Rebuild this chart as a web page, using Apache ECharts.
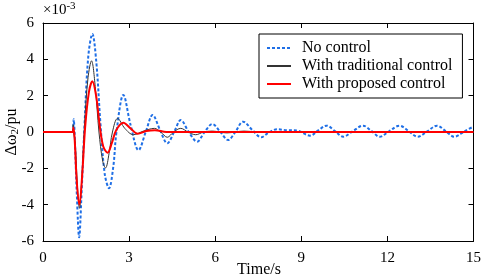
<!DOCTYPE html>
<html>
<head>
<meta charset="utf-8">
<script src="https://cdn.jsdelivr.net/npm/echarts@6/dist/echarts.min.js"></script>
<style>
  html, body { margin: 0; padding: 0; background: #fff; }
  #chart { width: 484px; height: 279px; }
</style>
</head>
<body>
<div id="chart"></div>
<script>
// values, y in units of 1e-3 pu
const seriesNames = ['No control', 'With traditional control', 'With proposed control']
const xTicks = [0, 3, 6, 9, 12, 15]
const yTicks = [-6, -4, -2, 0, 2, 4, 6]

const tNone = [0, 1.0, 1.04, 1.07, 1.1, 1.18, 1.26, 1.34, 1.45, 1.58, 1.72, 1.86, 2.0, 2.15, 2.3, 2.45, 2.56, 2.8, 3.05, 3.33, 3.58, 3.82, 4.08, 4.33, 4.57, 4.8, 5.08, 5.37, 5.63, 5.9, 6.18, 6.45, 6.7, 6.97, 7.3, 7.6, 7.85, 8.15, 8.5, 8.85, 9.3, 9.6, 9.88, 10.17, 10.46, 10.8, 11.15, 11.45, 11.73, 12.07, 12.42, 12.74, 13.06, 13.4, 13.73, 14.03, 14.33, 14.7, 15.0]
const vNone = [0, 0, 0, 0.7, 0, -3.5, -5.8, -3.5, 0.5, 4.2, 5.4, 3.8, 0.5, -2.3, -3.1, -1.9, 0, 2.04, 0.4, -1.0, 0, 0.94, 0.1, -0.62, 0, 0.66, 0, -0.53, 0, 0.44, 0, -0.44, 0, 0.57, 0.1, -0.29, -0.05, 0.15, 0.1, 0.08, -0.2, 0.1, 0.35, 0.05, -0.26, 0.05, 0.35, 0.05, -0.26, 0.05, 0.35, 0.05, -0.26, 0.05, 0.35, 0.05, -0.26, 0.05, 0.3]

const tTrad = [0, 1.03, 1.05, 1.08, 1.12, 1.2, 1.27, 1.35, 1.45, 1.57, 1.69, 1.82, 1.95, 2.08, 2.18, 2.3, 2.42, 2.6, 2.85, 3.15, 3.5, 3.88, 4.1, 4.33, 4.55, 4.8, 5.05, 5.32, 5.6, 5.9, 6.4, 7.0, 7.6, 15]
const vTrad = [0, 0, 0.4, -0.2, -0.5, -3.0, -4.2, -2.6, 0.5, 3.0, 3.92, 2.5, 0, -1.6, -1.98, -1.2, 0, 0.75, 0.2, -0.15, 0.05, 0.2, 0, -0.29, 0, 0.2, 0, -0.15, 0, 0.05, -0.05, 0.05, 0, 0]

const tProp = [0, 1.03, 1.06, 1.1, 1.18, 1.27, 1.36, 1.47, 1.6, 1.72, 1.85, 1.98, 2.1, 2.25, 2.4, 2.55, 2.8, 3.05, 3.3, 3.6, 3.9, 4.3, 15]
const vProp = [0, 0, 0.25, -0.3, -2.8, -4.0, -2.5, 0.3, 2.2, 2.8, 2.0, 0.3, -0.8, -1.14, -0.6, 0.1, 0.51, 0.2, -0.1, 0.05, 0.1, 0, 0]

const pairs = (ts, vs) => ts.map((t, i) => [t, vs[i]])

const font = 'Liberation Serif'

// fresh object per axis, MATLAB style box with inward ticks
function boxAxis(position, min, max, interval, labels) {
  return {
    type: 'value', position: position, min: min, max: max, interval: interval,
    axisLine: { show: true, onZero: false, lineStyle: { color: '#000', width: 1 } },
    axisTick: { show: true, inside: true, length: 5, lineStyle: { color: '#000', width: 1 } },
    axisLabel: labels
      ? { show: true, fontFamily: font, fontSize: 15, color: '#000', margin: position === 'left' ? 9 : 10 }
      : { show: false },
    splitLine: { show: false }
  }
}

// axis titles and the exponent as plain text elements
const titles = [
  {
    type: 'text', left: 43, top: 1,
    style: {
      text: '{m|×10}{s|-3}',
      rich: {
        m: { fontFamily: font, fontSize: 15, fill: '#000' },
        s: { fontFamily: font, fontSize: 11, fill: '#000', verticalAlign: 'top', padding: [0, 0, 8, 0] }
      }
    }
  },
  {
    type: 'text', x: 259, y: 270,
    style: { text: 'Time/s', fontFamily: font, fontSize: 16, fill: '#000', align: 'center', verticalAlign: 'middle' }
  },
  {
    type: 'text', x: 12, y: 132, rotation: Math.PI / 2,
    style: {
      text: '{n|Δω}{s|2}{n|/pu}', align: 'center', verticalAlign: 'middle',
      rich: {
        n: { fontFamily: font, fontSize: 16, fill: '#000' },
        s: { fontFamily: font, fontSize: 11, fill: '#000', verticalAlign: 'bottom', padding: [6, 0, 0, 0] }
      }
    }
  }
]

let chart = echarts.init(document.getElementById('chart'))
let failed = false
try {
  chart.setOption({
    animation: false,
    grid: { left: 43, right: 8, top: 23, bottom: 38 },
    graphic: titles,
    legend: {
      orient: 'vertical', left: 259, top: 34,
      padding: [6, 10, 6, 7],
      itemGap: 2, itemWidth: 24, itemHeight: 16,
      borderColor: '#000', borderWidth: 1,
      backgroundColor: '#fff',
      itemStyle: { opacity: 0 },
      textStyle: { fontFamily: font, fontSize: 16, color: '#000', padding: [0, 0, 0, 6] },
      data: seriesNames
    },
    xAxis: [boxAxis('bottom', 0, 15, 3, true), boxAxis('top', 0, 15, 3, false)],
    yAxis: [boxAxis('left', -6, 6, 2, true), boxAxis('right', -6, 6, 2, false)],
    series: [
      {
        name: seriesNames[0], type: 'line', symbol: 'none', smooth: 0.35,
        data: pairs(tNone, vNone),
        lineStyle: { color: '#1f6fe6', width: 2, type: [3, 2] },
        itemStyle: { color: '#1f6fe6' }
      },
      {
        name: seriesNames[1], type: 'line', symbol: 'none', smooth: 0.35,
        data: pairs(tTrad, vTrad),
        lineStyle: { color: '#333', width: 1 },
        itemStyle: { color: '#333' }
      },
      {
        name: seriesNames[2], type: 'line', symbol: 'none', smooth: 0.35,
        data: pairs(tProp, vProp),
        lineStyle: { color: '#f00', width: 2 },
        itemStyle: { color: '#f00' }
      },
      {
        name: 'box', type: 'line', xAxisIndex: 1, yAxisIndex: 1, symbol: 'none', silent: true,
        data: [[0, 0], [15, 0]], lineStyle: { opacity: 0 }
      }
    ]
  })
} catch (e) {
  failed = true
  console.error(e)
}

// fallback: if the axes did not finish drawing, draw the frame through the chart's scales
if (failed) {
  const px = (x, y) => chart.convertToPixel({ gridIndex: 0 }, [x, y])
  const tl = px(0, 6), br = px(15, -6)
  const x0 = Math.round(tl[0]) + 0.5, y0 = Math.round(tl[1]) + 0.5
  const x1 = Math.round(br[0]) + 0.5, y1 = Math.round(br[1]) + 0.5
  let frame = [{
    type: 'rect', z: 50, silent: true,
    shape: { x: x0, y: y0, width: x1 - x0, height: y1 - y0 },
    style: { stroke: '#000', lineWidth: 1, fill: 'none' }
  }]
  xTicks.forEach(v => {
    const x = Math.round(px(v, 0)[0]) + 0.5
    frame.push({ type: 'line', z: 50, shape: { x1: x, y1: y1, x2: x, y2: y1 - 5 }, style: { stroke: '#000', lineWidth: 1 } })
    frame.push({ type: 'line', z: 50, shape: { x1: x, y1: y0, x2: x, y2: y0 + 5 }, style: { stroke: '#000', lineWidth: 1 } })
  })
  yTicks.forEach(v => {
    const y = Math.round(px(0, v)[1]) + 0.5
    frame.push({ type: 'line', z: 50, shape: { x1: x0, y1: y, x2: x0 + 5, y2: y }, style: { stroke: '#000', lineWidth: 1 } })
    frame.push({ type: 'line', z: 50, shape: { x1: x1, y1: y, x2: x1 - 5, y2: y }, style: { stroke: '#000', lineWidth: 1 } })
  })
  chart.setOption({ graphic: titles.concat(frame) })
}
</script>
</body>
</html>
